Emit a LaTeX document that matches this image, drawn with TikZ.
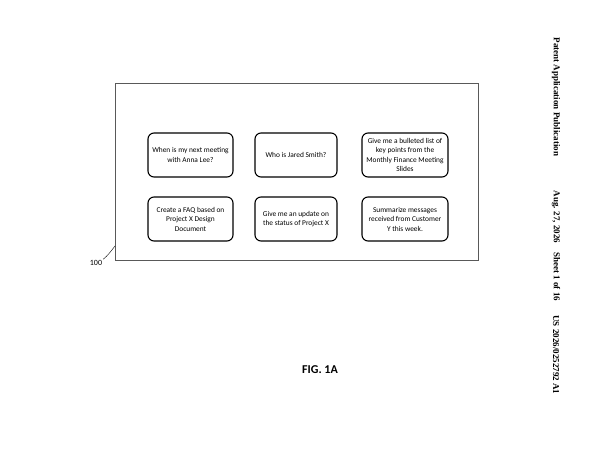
\documentclass[tikz,border=0pt]{standalone}
\usepackage{fontspec}
\setmainfont{Carlito}
\newfontfamily\timesfont{Liberation Serif}
\usetikzlibrary{positioning}

\begin{document}
\begin{tikzpicture}[x=1pt,y=-1pt]
    \tikzset{query/.style={rectangle, rounded corners=6pt, draw, line width=1.1pt, minimum width=85pt, minimum height=44pt, align=center, font=\fontsize{7.4}{9.5}\selectfont, inner sep=1pt}}
    \tikzset{header/.style={rotate=-90, font=\timesfont\bfseries\fontsize{9}{10}\selectfont}}
    \useasboundingbox (0,0) rectangle (600,465);

    % Frame
    \draw[line width=0.8pt, gray!70!black] (115,83) rectangle (478,260);
    \coordinate (corner) at (115,246);
    \node[font=\fontsize{8}{9}\selectfont, inner sep=1pt] (lbl) at (96,263) {100};
    \draw[thin] (lbl.north east) .. controls (108,255) .. (corner);

    % Queries
    \node[query] (q1) at (190.5,155) {When is my next meeting\\with Anna Lee?};
    \node[query, minimum width=82pt] (q2) at (296,155) {Who is Jared Smith?};
    \node[query, minimum width=86pt] (q3) at (405,155) {Give me a bulleted list of\\key points from the\\Monthly Finance Meeting\\Slides};
    \node[query] (q4) at (190.5,219) {Create a FAQ based on\\Project X Design\\Document};
    \node[query, minimum width=82pt] (q5) at (296,219) {Give me an update on\\the status of Project X};
    \node[query, minimum width=86pt] (q6) at (405,219) {Summarize messages\\received from Customer\\Y this week.};

    % Caption
    \node[font=\bfseries\fontsize{12}{14}\selectfont] (fig) at (320,370) {FIG. 1A};

    % Header
    \node[header] (h1) at (556,97) {Patent Application Publication};
    \node[header] (h2) at (556,246) {Aug. 27, 2026\quad Sheet 1 of 16};
    \node[header] (h3) at (556,355) {US 2026/0252792 A1};
\end{tikzpicture}
\end{document}
